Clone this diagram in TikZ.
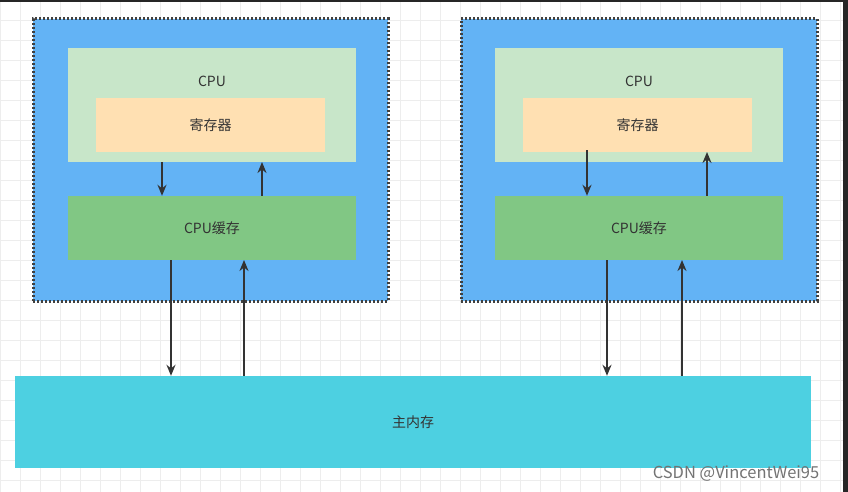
\documentclass[tikz,border=0pt]{standalone}
\usepackage{fontspec}
\setmainfont{Noto Sans CJK SC}
\usetikzlibrary{positioning}
\usetikzlibrary{arrows.meta}
\definecolor{boxblue}{HTML}{63B3F5}
\definecolor{cpugreen}{HTML}{C8E6C9}
\definecolor{regorange}{HTML}{FFE0B2}
\definecolor{cachegreen}{HTML}{81C784}
\definecolor{memcyan}{HTML}{4DD0E1}
\definecolor{txt}{HTML}{333333}
\begin{document}
\begin{tikzpicture}
			[x=1pt,y=-1pt,
			 every node/.style={rectangle,draw=none,inner sep=0pt,font=\fontsize{14}{16}\selectfont,text=txt},
			 core/.style={fill=boxblue,draw=black!75,line width=3pt,dash pattern=on 2pt off 2pt},
			 cpu/.style={fill=cpugreen,minimum width=288pt,minimum height=114pt},
			 reg/.style={fill=regorange,minimum width=229pt,minimum height=54pt},
			 cache/.style={fill=cachegreen,minimum width=288pt,minimum height=64pt},
			 connect/.style={line width=2.8pt,draw=black!80,-{Stealth[length=11pt,width=9pt]}}]
			\useasboundingbox (0,0) rectangle (848,492);
			\draw[step=20pt,black!7,line width=0.5pt] (0,0) grid (848,492);
			\fill[black!85] (0,0) rectangle (848,2);
			\fill[black!85] (843,0) rectangle (848,492);

			\node (c1) [core,minimum width=355pt,minimum height=282pt] at (210.5,160) {};
			\node (c2) [core,minimum width=356pt,minimum height=282pt] at (639,160) {};

			\node (cpu1) [cpu] at (212,105) {};
			\node (t1) at (212,81) {CPU};
			\node (reg1) [reg] at (210.5,125) {寄存器};
			\node (cache1) [cache] at (212,228) {CPU缓存};

			\node (cpu2) [cpu] at (639,105) {};
			\node (t2) at (639,81) {CPU};
			\node (reg2) [reg] at (637.5,125) {寄存器};
			\node (cache2) [cache] at (639,228) {CPU缓存};

			\node (mem) [fill=memcyan,minimum width=796pt,minimum height=92pt] at (413,422) {主内存};

			\coordinate (a1) at (162,162);
			\coordinate (b1) at (262,162);
			\coordinate (a2) at (587,150);
			\coordinate (b2) at (707,152);
			\coordinate (d1) at (171,260);
			\coordinate (u1) at (244,260);
			\coordinate (d2) at (607,260);
			\coordinate (u2) at (682,260);
			\draw [connect] (a1) -- (a1 |- cache1.north);
			\draw [connect] (b1 |- cache1.north) -- (b1);
			\draw [connect] (a2) -- (a2 |- cache2.north);
			\draw [connect] (b2 |- cache2.north) -- (b2);

			\draw [connect] (d1) -- (d1 |- mem.north);
			\draw [connect] (u1 |- mem.north) -- (u1);
			\draw [connect] (d2) -- (d2 |- mem.north);
			\draw [connect] (u2 |- mem.north) -- (u2);

			\node (wm) [text=black!55,font=\fontsize{16.5}{18}\selectfont] at (736,474) {CSDN @VincentWei95};
		\end{tikzpicture}
\end{document}
